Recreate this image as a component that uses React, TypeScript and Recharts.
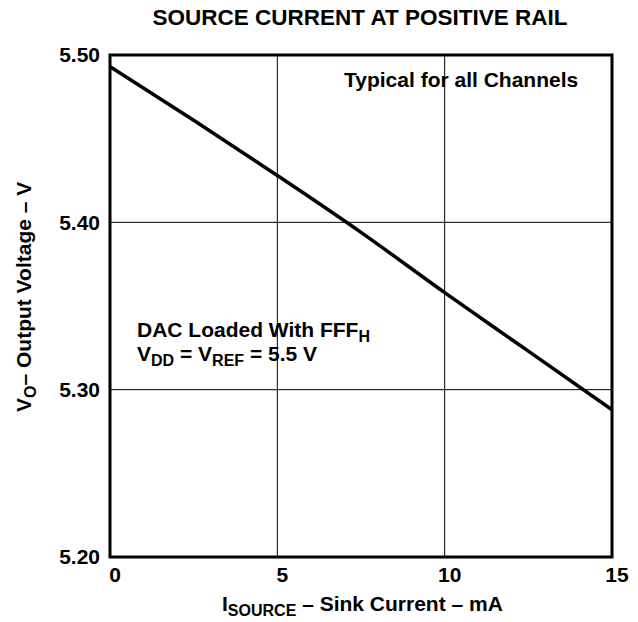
import { LineChart, Line, XAxis, YAxis, CartesianGrid, ReferenceArea } from "recharts";

const currentMA = [0, 2.5, 5, 7.5, 10, 12.5, 15];
const outputV = [5.493, 5.461, 5.428, 5.394, 5.358, 5.323, 5.288];
const xTicks = [0, 5, 10, 15];
const yTicks = [5.2, 5.3, 5.4, 5.5];

const data = currentMA.map((x, i) => ({ x, v: outputV[i] }));

const font = "'Liberation Sans', Arial, Helvetica, sans-serif";
const tickStyle = { fill: "#000", fontSize: 21, fontWeight: 700, fontFamily: font };

export default function App() {
  return (
    <div style={{ position: "absolute", left: 0, top: 0, width: 638, height: 622, background: "#fff" }}>
      <LineChart
        width={638}
        height={622}
        data={data}
        margin={{ top: 55, right: 26, bottom: 25, left: 0 }}
      >
        <CartesianGrid stroke="#000" strokeWidth={1} />
        <XAxis
          dataKey="x"
          type="number"
          domain={[0, 15]}
          ticks={xTicks}
          height={40}
          axisLine={false}
          tickLine={false}
          tickSize={8}
          tick={{ ...tickStyle, dx: 5 }}
        />
        <YAxis
          type="number"
          domain={[5.2, 5.5]}
          ticks={yTicks}
          width={110}
          axisLine={false}
          tickLine={false}
          tickSize={8}
          tick={tickStyle}
          tickFormatter={(v: number) => v.toFixed(2)}
        />
        <ReferenceArea
          x1={0}
          x2={15}
          y1={5.2}
          y2={5.5}
          fill="none"
          fillOpacity={0}
          stroke="#000"
          strokeWidth={3}
        />
        <Line
          type="monotone"
          dataKey="v"
          stroke="#000"
          strokeWidth={3.5}
          dot={false}
          isAnimationActive={false}
        />
      </LineChart>
      <svg
        width={638}
        height={622}
        style={{ position: "absolute", left: 0, top: 0, pointerEvents: "none" }}
        fontFamily={font}
        fontWeight={700}
        fill="#000"
      >
        <text x={360} y={25} fontSize={22.5} textAnchor="middle">
          SOURCE CURRENT AT POSITIVE RAIL
        </text>
        <text x={344} y={87} fontSize={21}>
          Typical for all Channels
        </text>
        <text x={137} y={337} fontSize={21}>
          DAC Loaded With FFF
          <tspan fontSize={16} dy={5}>H</tspan>
        </text>
        <text x={137} y={361} fontSize={21}>
          V<tspan fontSize={16} dy={5}>DD</tspan>
          <tspan dy={-5}> = V</tspan>
          <tspan fontSize={16} dy={5}>REF</tspan>
          <tspan dy={-5}> = 5.5 V</tspan>
        </text>
        <text x={222} y={611} fontSize={21}>
          I<tspan fontSize={16} dy={5}>SOURCE</tspan>
          <tspan dy={-5}> – Sink Current – mA</tspan>
        </text>
        <text transform="translate(31,412) rotate(-90)" fontSize={21}>
          V<tspan fontSize={16} dy={5}>O</tspan>
          <tspan dy={-5}>– Output Voltage – V</tspan>
        </text>
      </svg>
    </div>
  );
}
